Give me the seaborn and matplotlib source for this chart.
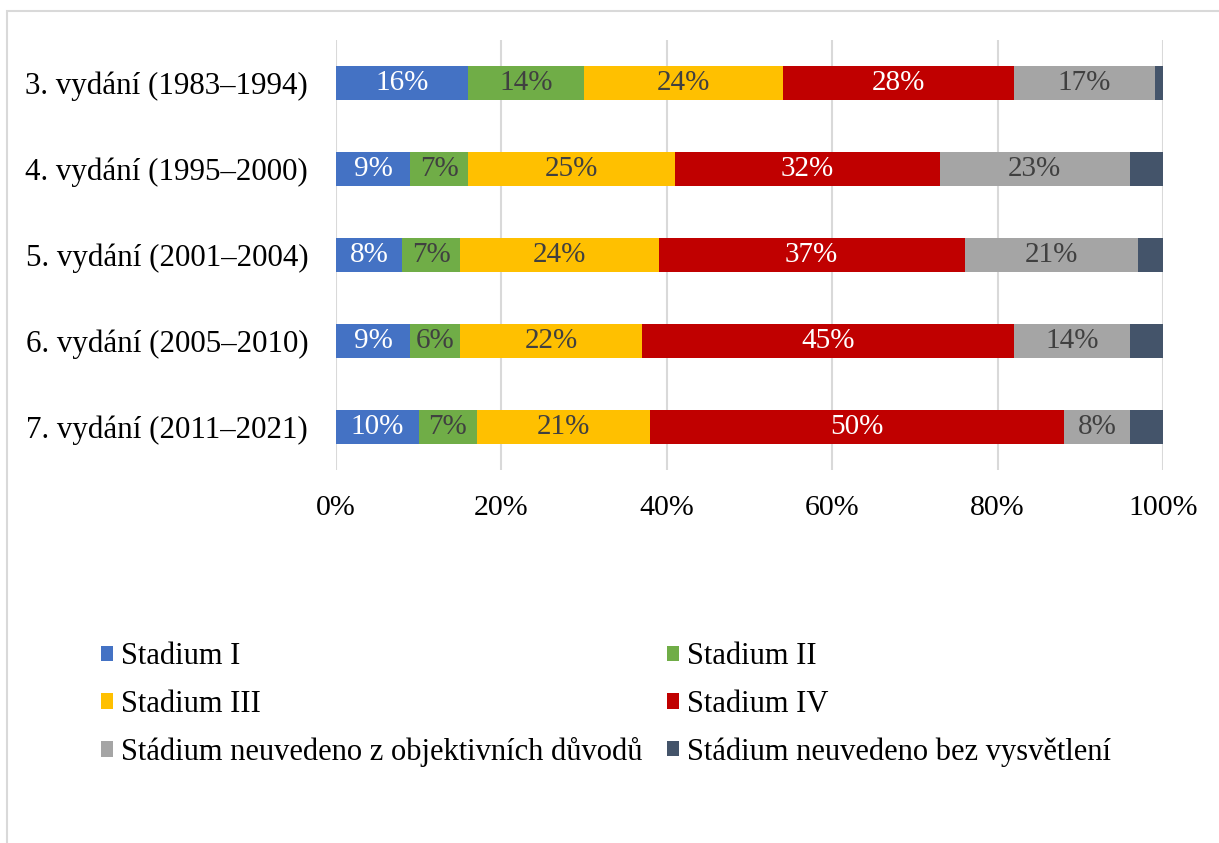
import numpy as np
import pandas as pd
import matplotlib.pyplot as plt
import seaborn as sns
from matplotlib.patches import Rectangle, Patch

editions = ['3. vydání (1983–1994)', '4. vydání (1995–2000)', '5. vydání (2001–2004)',
            '6. vydání (2005–2010)', '7. vydání (2011–2021)']
stages = ['Stadium I', 'Stadium II', 'Stadium III', 'Stadium IV',
          'Stádium neuvedeno z objektivních důvodů', 'Stádium neuvedeno bez vysvětlení']
stadium_1 = [16, 9, 8, 9, 10]
stadium_2 = [14, 7, 7, 6, 7]
stadium_3 = [24, 25, 24, 22, 21]
stadium_4 = [28, 32, 37, 45, 50]
neuv_obj = [17, 23, 21, 14, 8]
neuv_bez = [1, 4, 3, 4, 4]
colors = ['#4472C4', '#70AD47', '#FFC000', '#C00000', '#A5A5A5', '#44546A']
label_colors = ['white', '#404040', '#404040', 'white', '#404040', None]

sns.set_theme(style='white')
plt.rcParams['font.family'] = ['Liberation Serif', 'DejaVu Serif']
plt.rcParams['text.color'] = 'black'

vals = np.array([stadium_1, stadium_2, stadium_3, stadium_4, neuv_obj, neuv_bez], dtype=float)
cum = vals.cumsum(axis=0)

fig = plt.figure(figsize=(12.19, 8.43), dpi=100)
ax = fig.add_axes([336 / 1219, 1 - 470 / 843, 827 / 1219, 430 / 843])

# stacked bars: draw the longest cumulative bar first, shorter ones on top
for i in reversed(range(len(stages))):
    df = pd.DataFrame({'edition': editions, 'end': cum[i]})
    sns.barplot(data=df, x='end', y='edition', color=colors[i], orient='h',
                width=0.4, linewidth=0, saturation=1, ax=ax, zorder=3)

for i in range(len(stages)):
    if label_colors[i] is None:
        continue
    for j in range(len(editions)):
        ax.text(cum[i, j] - vals[i, j] / 2, j, f'{int(vals[i, j])}%', ha='center', va='center',
                fontsize=21, color=label_colors[i], zorder=5)

ax.set_xlim(0, 100)
ax.set_xticks(np.arange(0, 101, 20))
ax.set_xticklabels([f'{t}%' for t in range(0, 101, 20)])
ax.set_xlabel('')
ax.set_ylabel('')
ax.grid(axis='x', color='#d9d9d9', lw=1.5, zorder=0)
ax.grid(axis='y', visible=False)
for s in ax.spines.values():
    s.set_visible(False)
ax.tick_params(axis='y', length=0, pad=20, labelsize=22.3, labelcolor='black')
ax.tick_params(axis='x', length=0, pad=18, labelsize=21.5, labelcolor='black')

handles = [Patch(facecolor=c, edgecolor='none') for c in colors]
order = [0, 2, 4, 1, 3, 5]
fig.legend([handles[k] for k in order], [stages[k] for k in order], ncol=2,
           loc='center', bbox_to_anchor=(0.497, 0.164), frameon=False, fontsize=22,
           labelcolor='black', handlelength=0.4, handleheight=0.4, handletextpad=0.25,
           columnspacing=0.8, labelspacing=0.6)

fig.patches.append(Rectangle((7 / 1219, -0.1), 1.2, 1 - 11 / 843 + 0.1, transform=fig.transFigure,
                             fill=False, edgecolor='#d9d9d9', lw=1.5))

fig.savefig('out.png', dpi=100)
